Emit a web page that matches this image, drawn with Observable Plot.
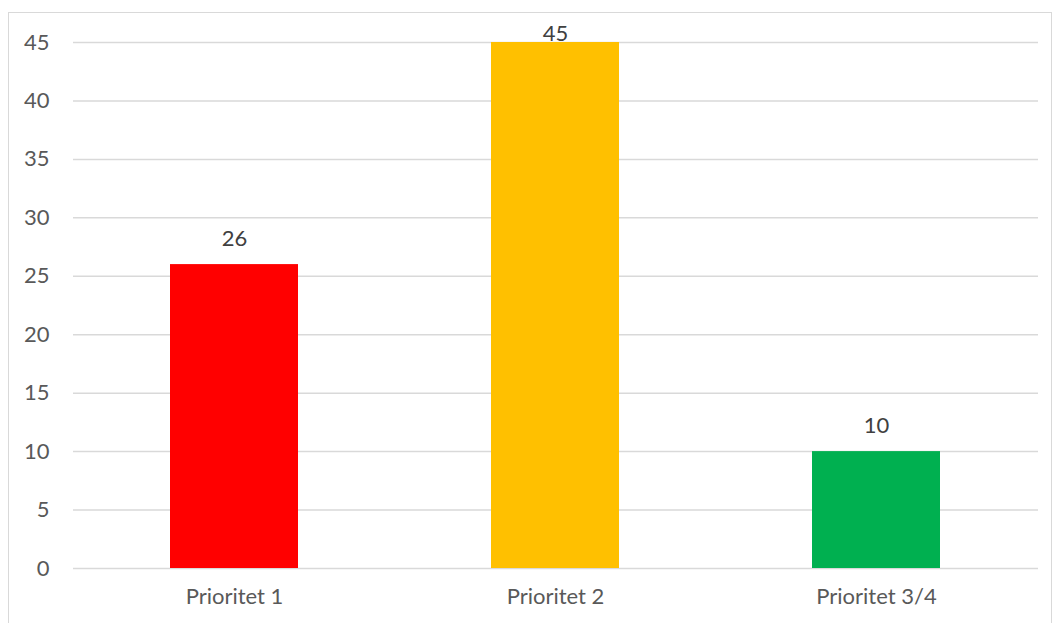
<!DOCTYPE html>
<html>
<head>
<meta charset="utf-8">
<script src="https://cdn.jsdelivr.net/npm/d3@7"></script>
<script src="https://cdn.jsdelivr.net/npm/@observablehq/plot@0.6"></script>
<style>
  html, body { margin: 0; padding: 0; background: #fff; overflow: hidden; }
  #wrap { position: relative; width: 1054px; height: 623px; }
  #border { position: absolute; left: 8px; top: 12px; width: 1044px; height: 640px;
            border: 1.5px solid #d9d9d9; box-sizing: border-box; }
  #chart { position: absolute; left: 0; top: 0; }
</style>
</head>
<body>
<div id="wrap"><div id="border"></div><div id="chart"></div></div>
<script>
const categories = ["Prioritet 1", "Prioritet 2", "Prioritet 3/4"];
const values = [26, 45, 10];
const colors = ["#ff0000", "#ffc000", "#00b050"];
const yTicks = [0, 5, 10, 15, 20, 25, 30, 35, 40, 45];

const data = categories.map((c, i) => ({category: c, value: values[i], color: colors[i]}));
const yMax = d3.max(yTicks);

const chart = Plot.plot({
  width: 1054,
  height: 623,
  marginLeft: 73,
  marginRight: 16,
  marginTop: 42,
  marginBottom: 55,
  style: {fontFamily: "Lato, 'Open Sans', sans-serif", fontSize: "22px", color: "#595959", background: "transparent"},
  x: {domain: categories, paddingInner: 0.6, paddingOuter: 0.3, label: null, tickSize: 0, tickPadding: 20},
  y: {domain: [0, yMax], ticks: yTicks, label: null, tickSize: 0, tickPadding: 24},
  marks: [
    Plot.gridY(yTicks, {stroke: "#d9d9d9", strokeOpacity: 1, strokeWidth: 1.5}),
    Plot.barY(data, {x: "category", y: "value", fill: "color"}),
    Plot.text(data.filter(d => d.value < yMax), {x: "category", y: "value", text: d => String(d.value),
      lineAnchor: "bottom", dy: -19, fill: "#404040", fontSize: 22}),
    Plot.text(data.filter(d => d.value >= yMax), {x: "category", y: "value", text: d => String(d.value),
      lineAnchor: "bottom", dy: -2, fill: "#404040", fontSize: 22})
  ]
});
document.getElementById("chart").appendChild(chart);
</script>
</body>
</html>
